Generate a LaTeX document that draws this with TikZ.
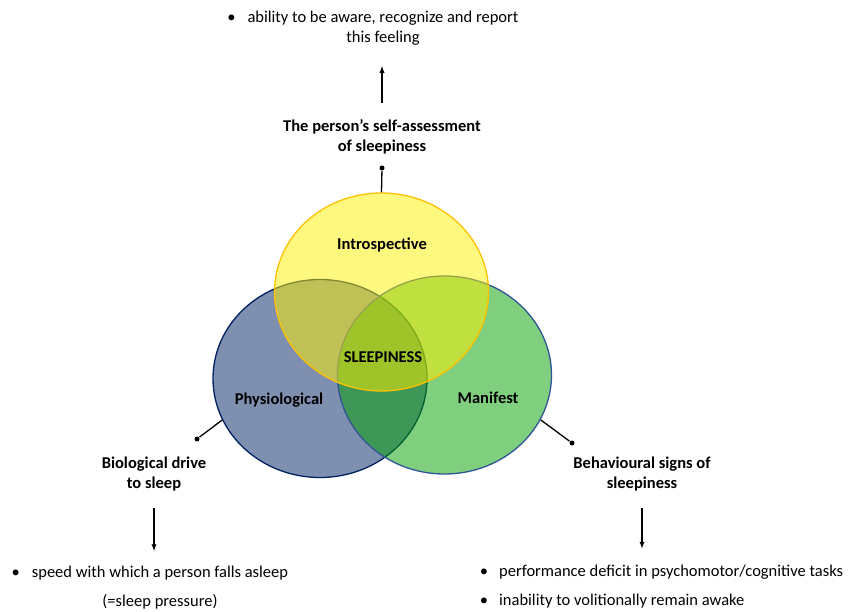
\documentclass[tikz,border=0pt]{standalone}
\usepackage{fontspec}
\setmainfont{Carlito}
\usetikzlibrary{arrows,positioning,shapes.geometric}
\definecolor{navy}{HTML}{002060}
\definecolor{leaf}{HTML}{00A000}
\definecolor{leafedge}{HTML}{2F5597}
\definecolor{amber}{HTML}{FFC000}
\tikzstyle{venn} = [ellipse, minimum width=214pt, minimum height=198pt,
inner sep=0pt, line width=1.3pt, fill opacity=0.5]
\tikzstyle{heading} = [font=\fontsize{16.5}{20}\selectfont\bfseries, align=center]
\tikzstyle{bullets} = [font=\fontsize{16.5}{20}\selectfont]
\tikzstyle{dotend} = [circle, fill=black, inner sep=0pt, minimum size=5pt]

\begin{document}
\begin{tikzpicture}[x=1pt, y=-1pt, >=latex, line width=1.3pt]
	\useasboundingbox (0,0) rectangle (857,611);
	\node [venn, draw=navy, fill=navy] (Physiological) at (320,378.5) {};
	\node [venn, draw=leafedge, fill=leaf] (Manifest) at (444.5,375) {};
	\node [venn, draw=amber, fill=yellow] (Introspective) at (381.5,292) {};
	\node [heading] (PhysName) at (279,400) {Physiological};
	\node [heading] (ManName) at (488,398) {Manifest};
	\node [heading] (IntroName) at (382,245) {Introspective};
	\node [heading] (Core) at (383,357) {SLEEPINESS};
	
	% top branch
	\node [dotend] (IntroDot) at (382,168) {};
	\node [heading] (SelfAssess) at (382,137) {The person's self-assessment\\of sleepiness};
	\node [bullets, align=center] (Aware) at (383,28) {\llap{\textbullet\hspace{12pt}}ability to be aware, recognize and report\\this feeling};
	\draw (Introspective.north) -- (IntroDot);
	\draw [->, shorten <=13pt, shorten >=17pt] (SelfAssess) -- (SelfAssess |- Aware.south);
	
	% left branch
	\node [dotend] (PhysDot) at (197,439) {};
	\node [heading] (Drive) at (154,474) {Biological drive\\to sleep};
	\node [bullets, align=center] (Speed) at (160,587.5) {\llap{\textbullet\hspace{12pt}}speed with which a person falls asleep\\[9pt](=sleep pressure)};
	\draw (Physiological.203) -- (PhysDot);
	\draw [->, shorten <=13pt, shorten >=11pt] (Drive) -- (Drive |- Speed.north);
	
	% right branch
	\node [dotend] (ManDot) at (572,443) {};
	\node [heading] (Signs) at (642,474) {Behavioural signs of\\sleepiness};
	\node [bullets, align=left, anchor=west] (Deficits) at (476,587) {\textbullet\hspace{11pt}performance deficit in psychomotor/cognitive tasks\\[9pt]\textbullet\hspace{11pt}inability to volitionally remain awake};
	\draw (Manifest.335) -- (ManDot);
	\draw [->, shorten <=13pt, shorten >=13pt] (Signs) -- (Signs |- Deficits.north);
\end{tikzpicture}
\end{document}
